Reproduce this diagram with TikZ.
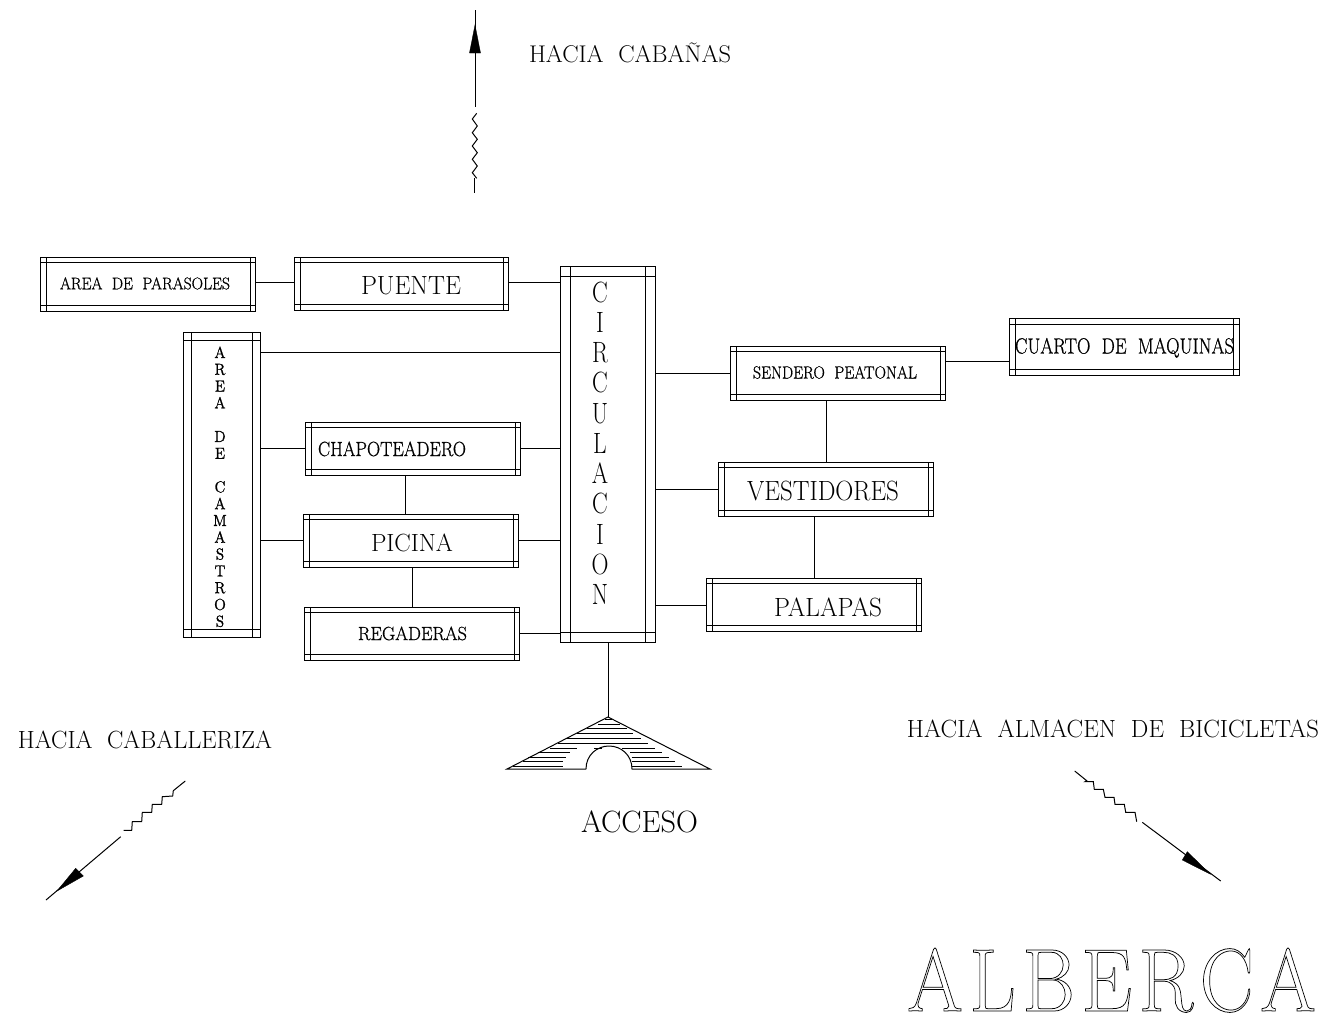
\documentclass[tikz,border=0pt]{standalone}
\usepackage{graphicx}
\newcommand{\fittxt}[3]{\resizebox{\dimexpr#1pt*3/4\relax}{\dimexpr#2pt*3/4\relax}{\fontsize{20}{24}\selectfont\raisebox{0pt}[0.683em][0pt]{#3}}}
\newcommand{\outl}[1]{\special{pdf:code 1 Tr 0.17 w}#1\special{pdf:code 0 Tr 1 w}}
\newcommand{\bld}[1]{\special{pdf:code 2 Tr 0.15 w}#1\special{pdf:code 0 Tr 1 w}}
\newcommand{\cadbox}[6]{%
  \pgfmathsetmacro{\bw}{(#4-#2)*0.75}\pgfmathsetmacro{\bh}{(#5-#3)*0.75}%
  \node[cadframe,minimum width=\bw pt,minimum height=\bh pt] (#1) at ({(#2+#4)/2-0.5},{(#3+#5)/2}) {};
  \draw[cadline] ({#2+#6-0.5},{#3}) -- ({#2+#6-0.5},{#5}) ({#4-#6-0.5},{#3}) -- ({#4-#6-0.5},{#5})
                 ({#2-0.5},{#3+#6}) -- ({#4-0.5},{#3+#6}) ({#2-0.5},{#5-#6}) -- ({#4-0.5},{#5-#6});
}
\newcommand{\lettersA}{C\\I\\R\\C\\U\\L\\A\\C\\I\\O\\N}
\newcommand{\lettersB}{A\\R\\E\\A\\ ~\\D\\E\\ ~\\C\\A\\M\\A\\S\\T\\R\\O\\S}
\tikzset{
  cadline/.style={line width=0.75pt,black},
  cadframe/.style={cadline,draw,inner sep=0pt,outer sep=0pt,fill=white},
  txt/.style={inner sep=0pt,outer sep=0pt,black},
  conn/.style={cadline},
  hatch/.style={line width=0.7pt,black},
  headfill/.style={fill=black,draw=black,line width=0.3pt},
}
\begin{document}
\begin{tikzpicture}[x=0.75pt,y=-0.75pt]
\useasboundingbox (0,0) rectangle (1325,1018);
% boxes
\cadbox{par}{41}{257}{256}{311}{5.5}
\cadbox{pue}{295}{257}{509}{310}{5.5}
\cadbox{cir}{561}{266}{656}{642}{10}
\cadbox{cam}{184}{332}{261}{637}{8}
\cadbox{cha}{306}{422}{521}{475}{5.5}
\cadbox{pic}{304}{514}{519}{567}{5.5}
\cadbox{reg}{305}{607}{520}{660}{5.5}
\cadbox{sen}{731}{346}{946}{400}{5.5}
\cadbox{cua}{1010}{318}{1240}{375}{6}
\cadbox{ves}{719}{462}{934}{516}{5.5}
\cadbox{pal}{707}{578}{922}{631}{5.5}
% box labels
\node[txt] (tpar) at (145,283.5) {\fittxt{170}{11.5}{\bld{AREA\ \ DE\ \ PARASOLES}}};
\node[txt] (tpue) at (411,285) {\fittxt{100}{18}{PUENTE}};
\node[txt] (tcha) at (392,449) {\fittxt{148}{14}{\bld{CHAPOTEADERO}}};
\node[txt] (tpic) at (412,542.5) {\fittxt{82}{17}{PICINA}};
\node[txt] (treg) at (412.5,633.5) {\fittxt{109}{13}{\bld{REGADERAS}}};
\node[txt] (tsen) at (835,372.5) {\fittxt{164}{12}{\bld{SENDERO\ \ PEATONAL}}};
\node[txt] (tcua) at (1124.5,346) {\fittxt{219}{15}{\bld{CUARTO\ \ DE\ \ MAQUINAS}}};
\node[txt] (tves) at (823,491) {\fittxt{152}{19}{VESTIDORES}};
\node[txt] (tpal) at (828,607) {\fittxt{108}{18}{PALAPAS}};
\node[txt] (tcir) at (600,447.3) {\scalebox{0.8}[1]{\fontsize{22}{22.7}\selectfont\begin{tabular}{@{}c@{}}\lettersA\end{tabular}}};
\node[txt] (tcam) at (220,489) {\scalebox{0.95}[1]{\fontsize{12}{12.6}\selectfont\bld{\begin{tabular}{@{}c@{}}\lettersB\end{tabular}}}};
% free labels
\node[txt] (t1) at (630,54) {\fittxt{202}{16.5}{HACIA\ \ CABAÑAS}};
\node[txt] (t2) at (145,740) {\fittxt{254}{17}{HACIA\ \ CABALLERIZA}};
\node[txt] (t3) at (1113,729) {\fittxt{412}{17}{HACIA\ \ ALMACEN\ \ DE\ \ BICICLETAS}};
\node[txt] (t4) at (639.5,822) {\fittxt{117}{21}{ACCESO}};
\node[txt] (t5) at (1111.5,980.5) {\fittxt{409}{61}{\outl{A\kern.08em L\kern.08em B\kern.08em E\kern.08em R\kern.08em C\kern.08em A}}};
% connectors
\draw[conn] (par.east |- 0,282) -- (pue.west |- 0,282);
\draw[conn] (pue.east |- 0,282) -- (cir.west |- 0,282);
\draw[conn] (cam.east |- 0,352) -- (cir.west |- 0,352);
\draw[conn] (cam.east |- 0,448) -- (cha.west |- 0,448);
\draw[conn] (cha.east |- 0,448) -- (cir.west |- 0,448);
\draw[conn] (cam.east |- 0,540) -- (pic.west |- 0,540);
\draw[conn] (pic.east |- 0,540) -- (cir.west |- 0,540);
\draw[conn] (reg.east |- 0,633) -- (cir.west |- 0,633);
\draw[conn] (cha.south -| 405,0) -- (pic.north -| 405,0);
\draw[conn] (pic.south -| 412,0) -- (reg.north -| 412,0);
\draw[conn] (cir.east |- 0,373) -- (sen.west |- 0,373);
\draw[conn] (sen.east |- 0,361) -- (cua.west |- 0,361);
\draw[conn] (sen.south -| 826,0) -- (ves.north -| 826,0);
\draw[conn] (cir.east |- 0,489) -- (ves.west |- 0,489);
\draw[conn] (ves.south -| 814,0) -- (pal.north -| 814,0);
\draw[conn] (cir.east |- 0,605) -- (pal.west |- 0,605);
% access symbol
\coordinate (apex) at (608,717);
\draw[conn] (cir.south -| apex) -- (apex);
\draw[conn] (586,769) -- (507,769) -- (apex) -- (710,769) -- (632,769)
  .. controls (632,755) and (621,746) .. (609,746) .. controls (597,746) and (586,755) .. (586,769);
\draw[hatch]
 (605,719.3)--(612,719.3) (598.3,724)--(620,724) (586.7,728.7)--(626.7,728.7)
 (576.7,733.7)--(633.3,733.7) (566,738.3)--(640.7,738.3) (558.3,743.3)--(647.7,743.3)
 (550,748)--(576.7,748) (594,748)--(601.7,748) (621.7,748)--(655,748)
 (538.3,752.7)--(570,752.7) (630,752.7)--(661.7,752.7)
 (528.3,757.3)--(566,757.3) (631.7,757.3)--(669,757.3)
 (523.3,761.7)--(562.7,761.7) (631.7,761.7)--(675,761.7)
 (513.3,766.7)--(562.7,766.7) (631.7,766.7)--(682.3,766.7);
% arrow up
\draw[conn] (475,10) -- (475,107);
\fill[headfill] (475,25) -- (480.5,53) -- (469.5,53) -- cycle;
\draw[conn] (476.7,113.3)--(472.3,119)--(477.3,126)--(472.3,132.7)--(477.3,139.3)--(472.3,146)--(477.3,152.7)--(472.3,159.3)--(477.3,166)--(472.3,172.7)--(476.7,178.3);
\draw[conn] (474,178) -- (474,193);
% arrow lower left
\draw[conn] (185.3,781)--(173.3,790.7)--(172.7,796)--(162.3,796.7)--(161.7,804.3)--(152.3,804.3)--(151.7,812.3)--(142.3,812.3)--(141.7,821.7)--(132.3,821.7)--(131.7,830.3)--(123.7,830.3);
\draw[conn] (120.7,836.7) -- (46,900);
\fill[headfill] (57,891) -- (75.7,868.3) -- (83.3,876) -- cycle;
% arrow lower right
\draw[conn] (1074.7,771)--(1086.7,780.7)--(1085,781.7)--(1093.3,781.7)--(1094.3,789.3)--(1103.3,789.3)--(1105,797.3)--(1114,797.3)--(1115,804.3)--(1124.3,804.3)--(1125.7,812.3)--(1135,812.3)--(1136.7,821.7);
\draw[conn] (1142.3,822.3) -- (1220.7,881);
\fill[headfill] (1210,874) -- (1187.3,851.7) -- (1182.3,860) -- cycle;
\end{tikzpicture}
\end{document}
